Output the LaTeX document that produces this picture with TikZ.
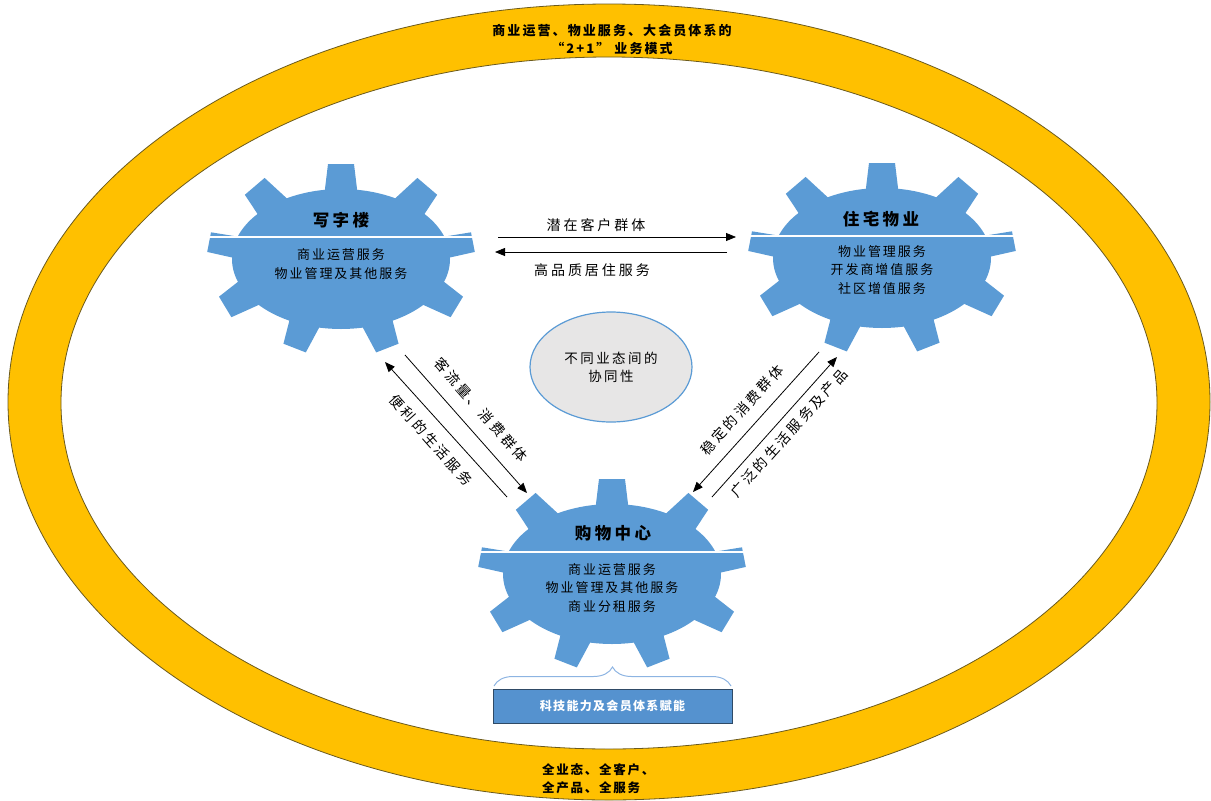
\documentclass[tikz,border=0pt]{standalone}
\usepackage{fontspec}
\setmainfont{Noto Sans CJK SC}
\usetikzlibrary{arrows.meta,calc,decorations.pathreplacing,shapes.geometric}
\definecolor{ringc}{HTML}{FFC000}
\definecolor{ringline}{HTML}{6B5A1E}
\definecolor{gearblue}{HTML}{5B9BD5}
\definecolor{midgray}{HTML}{E7E6E6}
\definecolor{boxblue}{HTML}{5592CF}
\definecolor{boxline}{HTML}{2F4A66}
\definecolor{bracec}{HTML}{8DB4E2}
\tikzset{
  gear/.pic={
    \begin{scope}[yscale=-1]
      \fill[gearblue] (0,0) ellipse [x radius=109pt, y radius=70pt];
      \foreach \t/\wb/\wo in {90/17/13,50/17/13,130/17/13,10/11/10,170/11/10,210/16/12,330/16/12,250/16/12,290/16/12}{
        \pgfmathsetmacro\px{109*cos(\t)}
        \pgfmathsetmacro\py{70*sin(\t)}
        \pgfmathsetmacro\pn{atan2(109*sin(\t),70*cos(\t))}
        \pgfmathsetmacro\pr{atan2(70*sin(\t),109*cos(\t))}
        \pgfmathsetmacro\ph{(\pn+\pr)/2}
        \fill[gearblue] ($(\px,\py)+(\ph:-8)+(\ph+90:\wb)$) -- ($(\px,\py)+(\ph:25)+(\ph+90:\wo)$)
          -- ($(\px,\py)+(\ph:25)+(\ph-90:\wo)$) -- ($(\px,\py)+(\ph:-8)+(\ph-90:\wb)$) -- cycle;
      }
    \end{scope}
    \draw[white, line width=1.5pt] (-136,-22) -- (136,-22);
  },
  gtitle/.style={inner sep=0, font=\bfseries\fontsize{16.5}{20}\selectfont\addfontfeature{LetterSpace=21}},
  gtext/.style={inner sep=0, align=center, font=\fontsize{13}{18.5}\selectfont\addfontfeature{LetterSpace=15}},
  lbl/.style={inner sep=0, font=\fontsize{14}{18}\selectfont\addfontfeature{LetterSpace=21}},
  ringtxt/.style={inner sep=0, font=\bfseries\fontsize{13}{18}\selectfont\addfontfeature{LetterSpace=16}},
  arr/.style={draw=black, line width=0.8pt, -{Triangle[length=10pt,width=8pt]}},
}
\begin{document}
\begin{tikzpicture}[x=1pt,y=-1pt]
\useasboundingbox (0,0) rectangle (1211,801);
% outer ring
\path[fill=ringc, draw=ringline, line width=0.8pt, even odd rule]
  (609,402) ellipse [x radius=601pt, y radius=398pt]
  (609,403) ellipse [x radius=548pt, y radius=346pt];
\node[ringtxt, align=center] (ringtop) at (612,39) {商业运营、物业服务、大会员体系的\\“2+1”\ 业务模式};
\node[ringtxt, align=left, anchor=west, font=\bfseries\fontsize{12.5}{18}\selectfont\addfontfeature{LetterSpace=14}] (ringbot) at (542,779) {全业态、全客户、\\全产品、全服务};

% gears
\pic (g1) at (341,259) {gear};
\pic (g2) at (882,258) {gear};
\pic (g3) at (612,574) {gear};

\node[gtitle] (t1) at (341,220) {写字楼};
\node[gtext] (s1) at (341,264) {商业运营服务\\物业管理及其他服务};
\node[gtitle] (t2) at (881,219) {住宅物业};
\node[gtext] (s2) at (882,270) {物业管理服务\\开发商增值服务\\社区增值服务};
\node[gtitle] (t3) at (613,533) {购物中心};
\node[gtext] (s3) at (612,588) {商业运营服务\\物业管理及其他服务\\商业分租服务};

% center ellipse
\node[ellipse, draw=gearblue, line width=1.2pt, fill=midgray, minimum width=162pt, minimum height=110pt, inner sep=0,
      align=center, font=\fontsize{13.5}{18}\selectfont\addfontfeature{LetterSpace=18}] (mid) at (611,367) {不同业态间的\\协同性};

% arrow end points
\coordinate (t1s) at (498,237); \coordinate (t1e) at (736,237);
\coordinate (t2s) at (727,252); \coordinate (t2e) at (495,252);
\coordinate (l1s) at (405,355); \coordinate (l1e) at (527,493);
\coordinate (l2s) at (507,497); \coordinate (l2e) at (385,362);
\coordinate (r1s) at (819,352); \coordinate (r1e) at (693,492);
\coordinate (r2s) at (712,497); \coordinate (r2e) at (837,357);

\draw[arr] (t1s) -- (t1e);
\draw[arr] (t2s) -- (t2e);
\draw[arr] (l1s) -- (l1e);
\draw[arr] (l2s) -- (l2e);
\draw[arr] (r1s) -- (r1e);
\draw[arr] (r2s) -- (r2e);

\node[lbl] (lt1) at (596,225) {潜在客户群体};
\node[lbl] (lt2) at (592,270) {高品质居住服务};
\node[lbl, rotate=-48.5] (ll1) at (481,410) {客流量、消费群体};
\node[lbl, rotate=-48.5] (ll2) at (431,440) {便利的生活服务};
\node[lbl, rotate=48] (lr1) at (742,410) {稳定的消费群体};
\node[lbl, rotate=48] (lr2) at (789,433) {广泛的生活服务及产品};

% brace and bottom box
\coordinate (brL) at (494,686); \coordinate (brR) at (731,686);
\draw[bracec, line width=1pt, decorate, decoration={brace, amplitude=19pt, aspect=0.5}] (brL) -- (brR);
\node[draw=boxline, fill=boxblue, line width=1pt, minimum width=239pt, minimum height=34pt, inner sep=0,
      text=white, font=\bfseries\fontsize{12}{14}\selectfont\addfontfeature{LetterSpace=11}] (box) at (612.5,706) {科技能力及会员体系赋能};
\end{tikzpicture}
\end{document}
